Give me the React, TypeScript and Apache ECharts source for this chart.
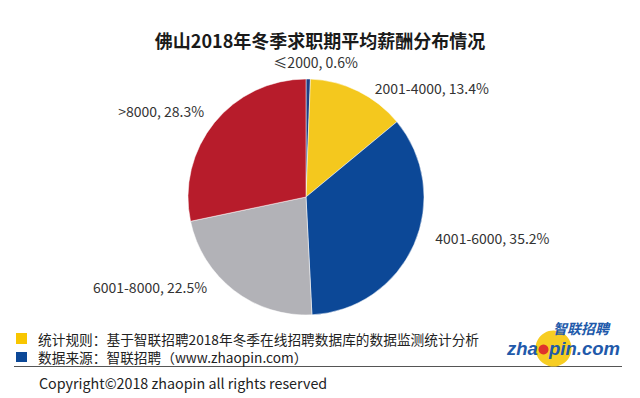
import React, { useEffect, useRef } from "react";
import * as echarts from "echarts";

const TITLE = "佛山2018年冬季求职期平均薪酬分布情况";
const categories = ["≤2000", "2001-4000", "4001-6000", "6001-8000", ">8000"];
const shares = [0.6, 13.4, 35.2, 22.5, 28.3];
const colors = ["#1F3F86", "#F4C81E", "#0C4897", "#B2B2B7", "#B71C2B"];
const NOTE_1 = "统计规则：基于智联招聘2018年冬季在线招聘数据库的数据监测统计分析";
const NOTE_2 = "数据来源：智联招聘（www.zhaopin.com）";
const COPYRIGHT = "Copyright©2018 zhaopin all rights reserved";

// label nudges (style only): [dx, dy] per slice
const LABEL_NUDGE: [number, number][] = [
  [-40, -9],
  [8, 4],
  [9, -10],
  [-17, -10],
  [1, -7],
];

const FONT = "'Noto Sans CJK SC', 'Noto Sans', sans-serif";
const LOGO_BLUE = "#2159AA";
const LOGO_FONT = "'Liberation Sans', Arial, sans-serif";

export default function App() {
  const ref = useRef<HTMLDivElement>(null);
  useEffect(() => {
    document.body.style.margin = "0";
    const chart = echarts.init(ref.current!, undefined, { renderer: "svg" });
    chart.setOption({
      animation: false,
      backgroundColor: "#ffffff",
      title: {
        text: TITLE,
        left: "center",
        top: 31,
        padding: 0,
        textStyle: { fontSize: 18, fontWeight: "bold", color: "#1a1a1a", fontFamily: FONT },
      },
      series: [
        {
          type: "pie",
          center: [306, 197],
          radius: [0, 118],
          startAngle: 90,
          clockwise: true,
          avoidLabelOverlap: false,
          data: categories.map((c, i) => ({ name: c, value: shares[i], itemStyle: { color: colors[i] } })),
          itemStyle: { borderColor: "#ffffff", borderWidth: 0.5 },
          label: {
            show: true,
            position: "outside",
            formatter: (p: any) => `${p.name}, ${Number(p.value).toFixed(1)}%`,
            fontSize: 14,
            color: "#333333",
            fontFamily: FONT,
          },
          labelLine: { show: false, length: 8, length2: 0 },
          labelLayout: (p: any) => ({ dx: LABEL_NUDGE[p.dataIndex][0], dy: LABEL_NUDGE[p.dataIndex][1] }),
        },
      ],
      graphic: [
        { type: "line", shape: { x1: 14, y1: 366.5, x2: 622, y2: 366.5 }, style: { stroke: "#555", lineWidth: 1 } },
        { type: "rect", shape: { x: 16, y: 333, width: 11, height: 11 }, style: { fill: "#F8C600" } },
        { type: "rect", shape: { x: 16, y: 352, width: 11, height: 10 }, style: { fill: "#0C4897" } },
        { type: "text", x: 38, y: 338.5, style: { text: NOTE_1, fontSize: 13.7, fill: "#222", fontFamily: FONT, verticalAlign: "middle" } },
        { type: "text", x: 38, y: 357, style: { text: NOTE_2, fontSize: 13.7, fill: "#222", fontFamily: FONT, verticalAlign: "middle" } },
        { type: "text", x: 39, y: 382, style: { text: COPYRIGHT, fontSize: 14.3, fill: "#222", fontFamily: FONT, verticalAlign: "middle" } },
        { type: "circle", shape: { cx: 553.5, cy: 348.5, r: 18 }, style: { fill: "#F7CD22" } },
        { type: "text", x: 553, y: 327.5, style: { text: "智联招聘", fontSize: 14, lineHeight: 14, fontWeight: "bold", fontStyle: "italic", fill: LOGO_BLUE, fontFamily: FONT, verticalAlign: "middle" } },
        { type: "text", x: 507, y: 348.5, style: { text: "zha", fontSize: 18.5, lineHeight: 16, fontWeight: "bold", fontStyle: "italic", fill: LOGO_BLUE, fontFamily: LOGO_FONT, verticalAlign: "middle" } },
        { type: "circle", shape: { cx: 543.5, cy: 349.5, r: 5 }, style: { fill: "#E0322B" } },
        { type: "text", x: 549, y: 348.5, style: { text: "pin.com", fontSize: 18.5, lineHeight: 16, fontWeight: "bold", fontStyle: "italic", fill: LOGO_BLUE, fontFamily: LOGO_FONT, verticalAlign: "middle" } },
      ],
    });
    return () => chart.dispose();
  }, []);
  return <div ref={ref} style={{ width: 640, height: 398 }} />;
}
